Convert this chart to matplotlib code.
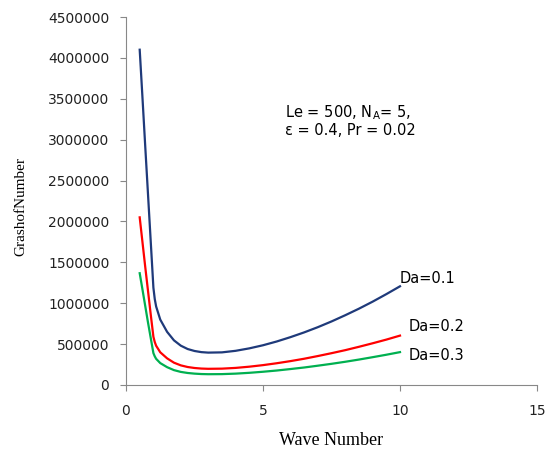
import matplotlib
matplotlib.use("Agg")
import matplotlib.pyplot as plt

wave = [0.5, 0.6, 0.7, 0.8, 0.9, 1.0, 1.05, 1.1, 1.25, 1.5, 1.75, 2.0, 2.25, 2.5, 2.75, 3.0,
        3.5, 4.0, 4.5, 5.0, 5.5, 6.0, 6.5, 7.0, 7.5, 8.0, 8.5, 9.0, 9.5, 10.0]
da01 = [4100000, 3520000, 2930000, 2350000, 1770000, 1190000, 1050000, 960000, 800000, 650000, 546000,
        481000, 440000, 416000, 402000, 396000, 399000, 418000, 448000, 486000, 532000,
        585000, 643000, 707000, 777000, 853000, 933000, 1019000, 1111000, 1207000]
da02 = [2050000, 1750000, 1450000, 1160000, 870000, 590000, 525000, 480000, 400000, 326000, 273000,
        240000, 220000, 208000, 201000, 198000, 200000, 209000, 224000, 243000, 266000,
        292000, 321000, 354000, 389000, 426000, 467000, 510000, 555000, 604000]
da03 = [1367000, 1170000, 970000, 770000, 580000, 390000, 350000, 320000, 268000, 218000, 182000,
        160000, 147000, 139000, 134000, 132000, 133000, 139000, 149000, 162000, 177000,
        195000, 214000, 236000, 259000, 284000, 311000, 340000, 370000, 402000]

xticks = [0, 5, 10, 15]
yticks = [0, 500000, 1000000, 1500000, 2000000, 2500000, 3000000, 3500000, 4000000, 4500000]

sans = ["DejaVu Sans"]
serif = ["Liberation Serif", "DejaVu Serif"]

fig = plt.figure(figsize=(5.45, 4.57), dpi=100)
ax = fig.add_axes([126/545, 1-385/457, (537-126)/545, (385-17)/457])

ax.plot(wave, da01, color="#1F3A7A", lw=1.6, solid_joinstyle="round")
ax.plot(wave, da02, color="#FF0000", lw=1.6, solid_joinstyle="round")
ax.plot(wave, da03, color="#00B050", lw=1.6, solid_joinstyle="round")

ax.set_xlim(0, 15)
ax.set_ylim(0, 4500000)
ax.set_xticks(xticks)
ax.set_yticks(yticks)
ax.set_xticklabels([str(t) for t in xticks], family=sans, fontsize=10, color="#222222")
ax.set_yticklabels([str(t) for t in yticks], family=sans, fontsize=10, color="#222222")
for s in ["top", "right"]:
    ax.spines[s].set_visible(False)
for s in ["left", "bottom"]:
    ax.spines[s].set_color("#888888")
    ax.spines[s].set_linewidth(0.8)
ax.tick_params(axis="both", direction="out", length=4, color="#888888", width=0.8)
ax.tick_params(axis="x", pad=10)
ax.tick_params(axis="y", pad=8)

ax.set_xlabel("Wave Number", family=serif, fontsize=13, labelpad=10)
ax.set_ylabel("GrashofNumber", family=serif, fontsize=11)
ax.yaxis.set_label_coords(-0.241, 0.484)

ax.text(5.8, 3330000, r"Le = 500, N$_{\mathregular{A}}$= 5,", family=sans, fontsize=10.5, va="center")
ax.text(5.8, 3110000, "ε = 0.4, Pr = 0.02", family=sans, fontsize=10.5, va="center")

ax.text(10.0, 1300000, "Da=0.1", family=sans, fontsize=10.5, va="center")
ax.text(10.3, 720000, "Da=0.2", family=sans, fontsize=10.5, va="center")
ax.text(10.3, 355000, "Da=0.3", family=sans, fontsize=10.5, va="center")

fig.savefig("out.png", dpi=100)
